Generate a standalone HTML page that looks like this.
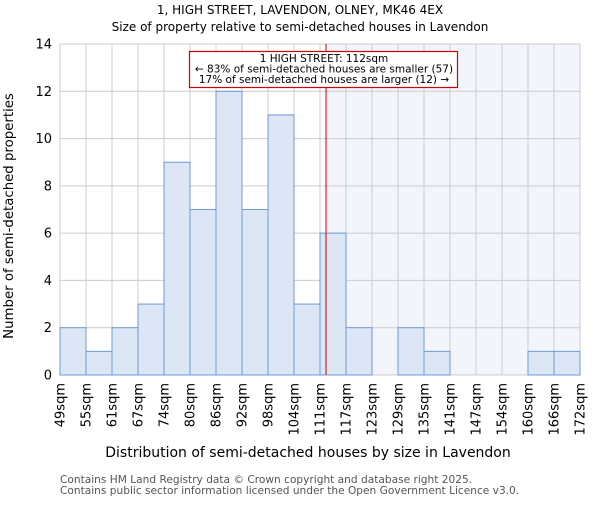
<!DOCTYPE html>
<html><head><meta charset="utf-8"><style>
body{margin:0;background:#fff}
svg{font-family:"DejaVu Sans","Liberation Sans",sans-serif}
</style></head><body>
<svg id="chart" width="600" height="500" viewBox="0 0 600 500">
<text x="300" y="14" text-anchor="middle" font-size="12">1, HIGH STREET, LAVENDON, OLNEY, MK46 4EX</text>
<text x="300" y="31" text-anchor="middle" font-size="12">Size of property relative to semi-detached houses in Lavendon</text>
<g id="plot"></g>
<text x="308" y="457" text-anchor="middle" font-size="14">Distribution of semi-detached houses by size in Lavendon</text>
<text transform="translate(13,216) rotate(-90)" text-anchor="middle" font-size="13.3">Number of semi-detached properties</text>
<text x="60" y="483" font-size="10.6" fill="#555">Contains HM Land Registry data © Crown copyright and database right 2025.</text>
<text x="60" y="494" font-size="10.6" fill="#555">Contains public sector information licensed under the Open Government Licence v3.0.</text>
</svg>
<script>
const binLabels=["49sqm","55sqm","61sqm","67sqm","74sqm","80sqm","86sqm","92sqm","98sqm","104sqm","111sqm","117sqm","123sqm","129sqm","135sqm","141sqm","147sqm","154sqm","160sqm","166sqm","172sqm"];
const binEdges=[49,55,61,67,74,80,86,92,98,104,110.5,117,123,129,135,141,147,154,160,166,172];
const counts=[2,1,2,3,9,7,12,7,11,3,6,2,0,2,1,0,0,0,1,1];
const yTicks=[0,2,4,6,8,10,12,14];
const propertySize=112;
const annotationLines=["1 HIGH STREET: 112sqm","← 83% of semi-detached houses are smaller (57)","17% of semi-detached houses are larger (12) →"];

const NS="http://www.w3.org/2000/svg";
const L=60,R=580,T=44,B=375,yMax=14;
const g=document.getElementById('plot');
const bw=(R-L)/counts.length;
const xi=i=>L+i*bw;
function xv(v){for(let i=0;i<binEdges.length-1;i++){if(v<=binEdges[i+1])return xi(i)+bw*(v-binEdges[i])/(binEdges[i+1]-binEdges[i]);}return R;}
const y=v=>B-(v/yMax)*(B-T);
function mk(t,a,p){const e=document.createElementNS(NS,t);for(const k in a)e.setAttribute(k,a[k]);(p||g).appendChild(e);return e;}
const px=xv(propertySize);
let e=mk('rect',{x:px,y:T,width:R-px,height:B-T,fill:'#f2f5fc'});


for(let i=0;i<=counts.length;i++){e=mk('line',{x1:xi(i),x2:xi(i),y1:T,y2:B,stroke:'#cccccc','stroke-width':1});

}
yTicks.forEach(t=>{e=mk('line',{x1:L,x2:R,y1:y(t),y2:y(t),stroke:'#cccccc','stroke-width':1});


const tx=mk('text',{x:L-8,y:y(t)+4.5,'text-anchor':'end','font-size':13});tx.textContent=t;

});
counts.forEach((c,i)=>{if(c<=0)return;const r=mk('rect',{x:xi(i),y:y(c),width:bw,height:B-y(c),fill:'#dce6f4',stroke:'#6f98d6','stroke-width':1});

});
binLabels.forEach((l,i)=>{const tx=mk('text',{transform:`translate(${xi(i)+4.5},383) rotate(-90)`,'text-anchor':'end','font-size':13});tx.textContent=l;

});
e=mk('line',{x1:px,x2:px,y1:T,y2:B,stroke:'#cc0000','stroke-width':1});


e=mk('rect',{x:189.5,y:51.5,width:268,height:36,fill:'#fff',stroke:'#cc0000','stroke-width':1.2});


annotationLines.forEach((s,k)=>{const tx=mk('text',{x:324,y:62+k*10.5,'text-anchor':'middle','font-size':10.5});tx.textContent=s;

});
</script>
</body></html>
